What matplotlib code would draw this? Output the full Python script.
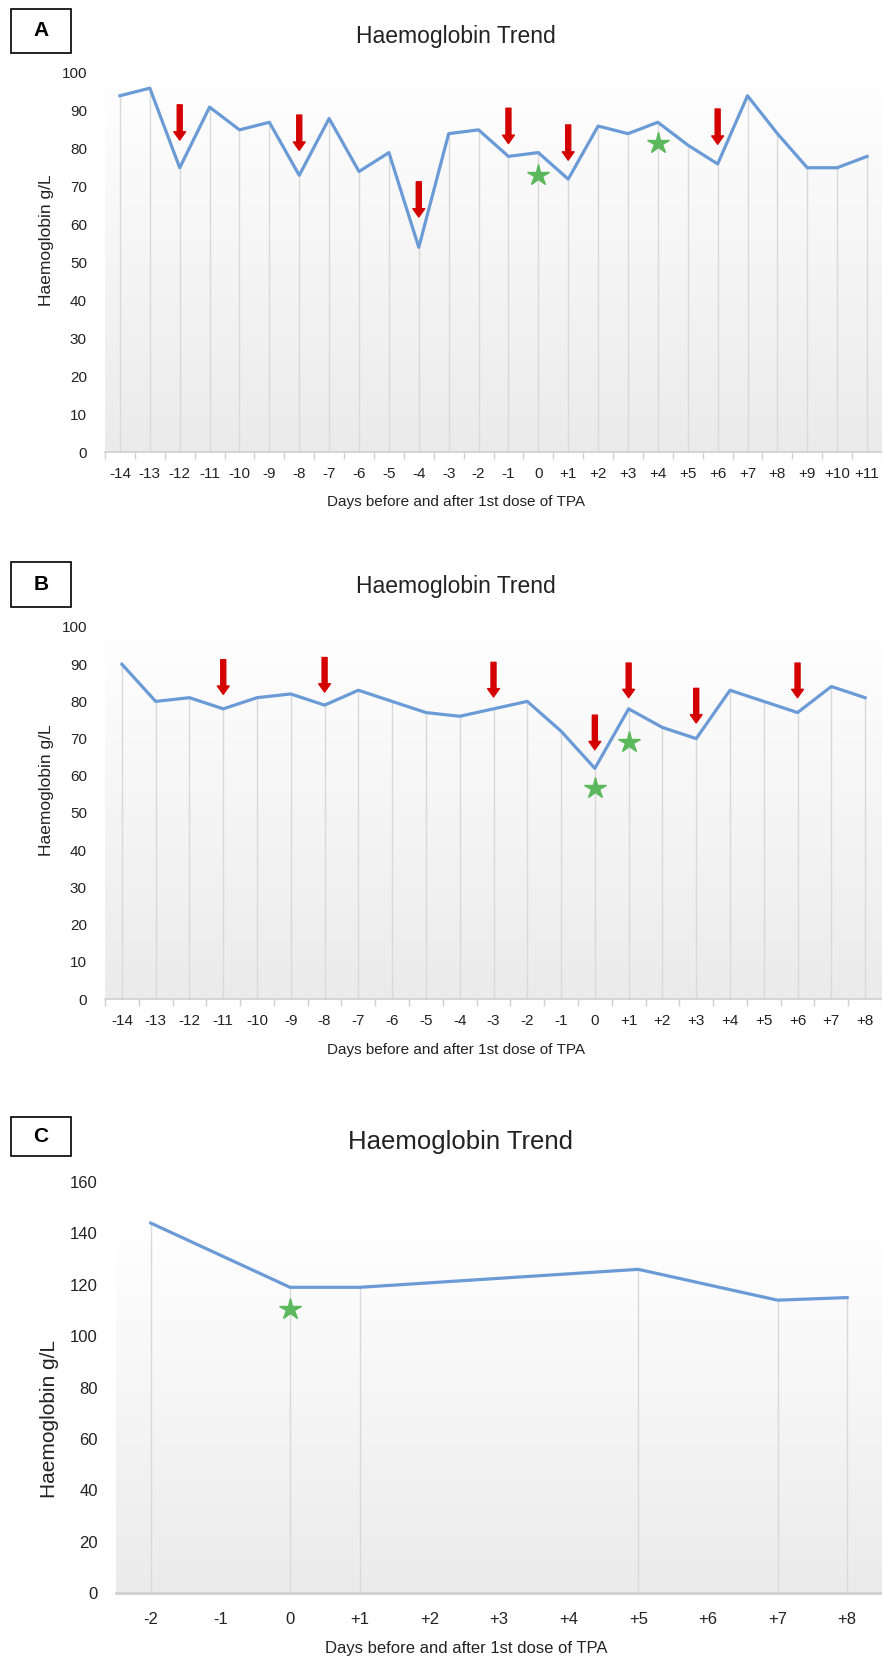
import matplotlib
matplotlib.use('Agg')
import matplotlib.pyplot as plt
import numpy as np
from matplotlib.patches import Rectangle

FONT = ['Liberation Sans', 'DejaVu Sans']
plt.rcParams['font.family'] = FONT

# ---------------- data ----------------
a_days = list(range(-14, 12))
a_hb = [94, 96, 75, 91, 85, 87, 73, 88, 74, 79, 54, 84, 85, 78, 79, 72, 86, 84, 87, 81, 76, 94, 84, 75, 75, 78]
a_arrow_days = [-12, -8, -4, -1, 1, 6]
a_arrow_tips = [82.3, 79.6, 62.0, 81.4, 77.0, 81.2]
a_star_days = [0, 4]
a_star_hb = [73.2, 81.4]

b_days = list(range(-14, 9))
b_hb = [90, 80, 81, 78, 81, 82, 79, 83, 80, 77, 76, 78, 80, 72, 62, 78, 73, 70, 83, 80, 77, 84, 81]
b_arrow_days = [-11, -8, -3, 0, 1, 3, 6]
b_arrow_tips = [81.9, 82.5, 81.2, 67.0, 81.0, 74.2, 81.0]
b_star_days = [0, 1]
b_star_hb = [56.8, 69.2]

c_days = [-2, 0, 1, 5, 7, 8]
c_hb = [144, 119, 119, 126, 114, 115]
c_tick_days = list(range(-2, 9))
c_star_days = [0]
c_star_hb = [110.6]

title = "Haemoglobin Trend"
xlabel = "Days before and after 1st dose of TPA"
ylabel = "Haemoglobin g/L"

W, H = 882, 1661
fig = plt.figure(figsize=(W / 100, H / 100), dpi=100)

LINE = '#6b9bd6'
RED = '#d40000'
GREEN = '#5cb85c'
GRID = '#d9d9d9'
TXT = '#222222'


def fx(px):
    return px / W


def fy(py):
    return 1 - py / H


def lab(d):
    return '0' if d == 0 else f'{d:+d}'


def panel(left, right, top, bottom, days, hb, xlim, ymax, ystep, ticks,
          arrows=None, tips=None, stars=None, star_hb=None, minor=True,
          fs=11, xpad=11, arrow_len=9.3, grad_top=1.0):
    ax = fig.add_axes([fx(left), fy(bottom), fx(right - left), (bottom - top) / H])
    grad = np.linspace(1, 0, 256).reshape(-1, 1)
    ax.imshow(grad, extent=[0, 1, 0, grad_top], transform=ax.transAxes, aspect='auto',
              cmap=matplotlib.colors.LinearSegmentedColormap.from_list(
                  'g', ['#ebebeb', '#ffffff']), zorder=0)
    ax.vlines(days, 0, hb, color=GRID, lw=1, zorder=1)
    ax.plot(days, hb, color=LINE, lw=2.3, zorder=3)
    if arrows:
        for d, t in zip(arrows, tips):
            ax.annotate('', xy=(d, t), xytext=(d, t + arrow_len),
                        arrowprops=dict(facecolor=RED, edgecolor=RED, width=3.6,
                                        headwidth=8.5, headlength=6, shrink=0),
                        zorder=4)
    if stars:
        ax.plot(stars, star_hb, ls='none', marker='*', ms=16, color=GREEN, zorder=5)
    ax.set_xlim(*xlim)
    ax.set_ylim(0, ymax)
    ax.set_yticks(np.arange(0, ymax + 1, ystep))
    ax.set_xticks(ticks)
    ax.set_xticklabels([lab(d) for d in ticks])
    for s in ['top', 'right', 'left']:
        ax.spines[s].set_visible(False)
    ax.spines['bottom'].set_color('#d0d0d0')
    ax.spines['bottom'].set_linewidth(1.2 if minor else 2)
    ax.tick_params(axis='y', length=0, pad=13, labelsize=fs, colors=TXT)
    ax.tick_params(axis='x', length=0, pad=xpad, labelsize=fs, colors=TXT)
    if minor:
        ax.set_xticks(np.arange(xlim[0], xlim[1] + 0.01, 1.0), minor=True)
        ax.tick_params(axis='x', which='minor', length=5, color='#d0d0d0', width=1)
    return ax


# Panel A
axA = panel(105, 882, 73, 452, a_days, a_hb, (-14.5, 11.5), 100, 10, a_days,
            a_arrow_days, a_arrow_tips, a_star_days, a_star_hb)
# Panel B
axB = panel(105, 882, 627, 999, b_days, b_hb, (-14.5, 8.5), 100, 10, b_days,
            b_arrow_days, b_arrow_tips, b_star_days, b_star_hb)
# Panel C
axC = panel(116, 882, 1182, 1593, c_days, c_hb, (-2.5, 8.5), 160, 20, c_tick_days,
            None, None, c_star_days, c_star_hb, minor=False, fs=12, xpad=14,
            grad_top=0.89)

# titles, labels
for (tx, ty, sz) in [(456, 37, 16.5), (456, 586, 16.5), (461, 1142, 18.5)]:
    fig.text(fx(tx), fy(ty), title, ha='center', va='center', fontsize=sz, color=TXT)
for (tx, ty, sz) in [(456, 502, 11), (456, 1050, 11), (466, 1648, 12)]:
    fig.text(fx(tx), fy(ty), xlabel, ha='center', va='center', fontsize=sz, color=TXT)
for (tx, ty, sz) in [(47, 240, 12.5), (47, 790, 12.5), (50, 1419, 15)]:
    fig.text(fx(tx), fy(ty), ylabel, ha='center', va='center', rotation=90,
             fontsize=sz, color=TXT)

# panel letter boxes
for (letter, x0, y0, x1, y1) in [('A', 11, 9, 71, 53), ('B', 11, 562, 71, 607), ('C', 11, 1117, 71, 1156)]:
    fig.add_artist(Rectangle((fx(x0), fy(y1)), fx(x1 - x0), (y1 - y0) / H,
                             transform=fig.transFigure, fill=True, facecolor='white',
                             edgecolor='black', lw=1.2))
    fig.text(fx((x0 + x1) / 2), fy((y0 + y1) / 2), letter, ha='center', va='center',
             fontsize=15, fontweight='bold', color='black')

fig.savefig('out.png', dpi=100)
